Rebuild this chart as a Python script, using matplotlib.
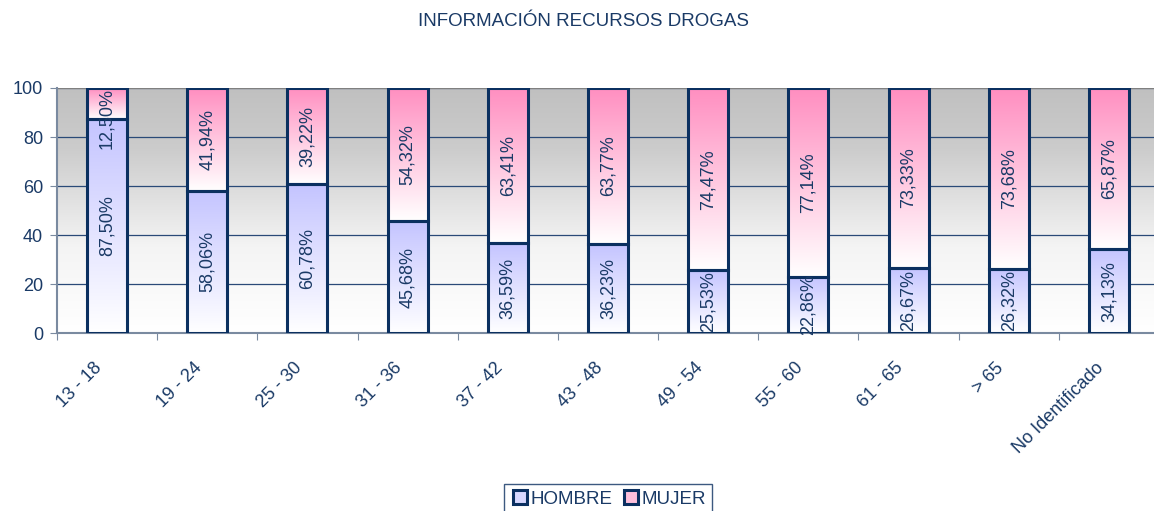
import numpy as np
import matplotlib
matplotlib.use("Agg")
import matplotlib.pyplot as plt
from matplotlib.colors import LinearSegmentedColormap
from matplotlib.lines import Line2D
from matplotlib.transforms import ScaledTranslation

categories = ["13 - 18", "19 - 24", "25 - 30", "31 - 36", "37 - 42", "43 - 48",
              "49 - 54", "55 - 60", "61 - 65", "> 65", "No Identificado"]
hombre = [87.50, 58.06, 60.78, 45.68, 36.59, 36.23, 25.53, 22.86, 26.67, 26.32, 34.13]
mujer = [12.50, 41.94, 39.22, 54.32, 63.41, 63.77, 74.47, 77.14, 73.33, 73.68, 65.87]
hombre_lbl = ["87,50%", "58,06%", "60,78%", "45,68%", "36,59%", "36,23%",
              "25,53%", "22,86%", "26,67%", "26,32%", "34,13%"]
mujer_lbl = ["12,50%", "41,94%", "39,22%", "54,32%", "63,41%", "63,77%",
             "74,47%", "77,14%", "73,33%", "73,68%", "65,87%"]
series_names = ["HOMBRE", "MUJER"]
yticks = [0, 20, 40, 60, 80, 100]

plt.rcParams['font.family'] = ['Liberation Sans', 'DejaVu Sans']
navy = "#0b3060"
txt = "#1a3a66"
fs = 13

fig = plt.figure(figsize=(11.54, 5.11), dpi=100)
ax = fig.add_axes([57/1154, 1-333/511, (1159-57)/1154, (333-88)/511])
n = len(categories)
ax.set_xlim(-0.5, n-0.5)
ax.set_ylim(0, 100)

# background gradient
bg = LinearSegmentedColormap.from_list("bg", [(0, "#ffffff"), (0.35, "#f4f4f4"),
                                              (0.75, "#cccccc"), (1, "#c0c0c0")])
grad = np.linspace(0, 1, 256).reshape(-1, 1)
ax.imshow(grad, cmap=bg, aspect='auto', extent=(-0.5, n-0.5, 0, 100),
          origin='lower', zorder=0)

for y in yticks[1:]:
    ax.axhline(y, color="#2a4a78", lw=0.9, zorder=1)
ax.axhline(100, color="#808080", lw=1.5, zorder=1)

cm_h = LinearSegmentedColormap.from_list("h", ["#ffffff", "#c4c4ff"])
cm_m = LinearSegmentedColormap.from_list("m", ["#ffffff", "#ff8ec0"])
w = 0.4
x = np.arange(n)
bars_h = ax.bar(x, hombre, w, facecolor='none', edgecolor=navy, lw=2.2, zorder=4)
bars_m = ax.bar(x, mujer, w, bottom=hombre, facecolor='none', edgecolor=navy, lw=2.2, zorder=4)
for bars, cm in ((bars_h, cm_h), (bars_m, cm_m)):
    for b in bars:
        x0, y0 = b.get_x(), b.get_y()
        im = ax.imshow(grad, cmap=cm, aspect='auto',
                       extent=(x0, x0+b.get_width(), y0, y0+b.get_height()),
                       origin='lower', zorder=3)
        im.set_clip_path(b)

lfs = 13
for i in range(n):
    ax.text(x[i], hombre[i]/2, hombre_lbl[i], rotation=90, ha='center', va='center',
            fontsize=lfs, color=txt, zorder=5)
    if mujer[i] < 20:
        ax.text(x[i], 100, mujer_lbl[i], rotation=90, ha='center', va='top',
                fontsize=lfs, color=txt, zorder=5)
    else:
        ax.text(x[i], hombre[i] + mujer[i]/2, mujer_lbl[i], rotation=90, ha='center',
                va='center', fontsize=lfs, color=txt, zorder=5)

ax.set_yticks(yticks)
ax.set_yticklabels([str(v) for v in yticks], fontsize=fs, color=txt)
ax.set_xticks(np.arange(-0.5, n-0.5, 1.0))
ax.set_xticklabels([])
ax.set_xticks(x, minor=True)
ax.set_xticklabels(categories, minor=True, rotation=45, ha='right', va='top',
                   rotation_mode='anchor', fontsize=fs, color=txt)
ax.tick_params(axis='x', which='minor', length=0, pad=19)
for lab in ax.get_xticklabels(minor=True):
    lab.set_transform(lab.get_transform() + ScaledTranslation(-0.14, 0, fig.dpi_scale_trans))
ax.tick_params(axis='x', which='major', length=5, color="#7a8aa0", direction='out')
ax.tick_params(axis='y', length=5, color="#7a8aa0", pad=5)
for s in ['top', 'right']:
    ax.spines[s].set_visible(False)
for s in ['left', 'bottom']:
    ax.spines[s].set_color("#7a8aa0")
    ax.spines[s].set_linewidth(1.5)

fig.text(584/1154, 1-22/511, "INFORMACIÓN RECURSOS DROGAS", ha='center', va='center',
         fontsize=13.5, color=txt)

handles = [Line2D([], [], marker='s', ls='none', markersize=10, markerfacecolor="#d8d8ff",
                  markeredgecolor=navy, markeredgewidth=2.2),
           Line2D([], [], marker='s', ls='none', markersize=10, markerfacecolor="#ffc0dc",
                  markeredgecolor=navy, markeredgewidth=2.2)]
leg = fig.legend(handles, series_names, loc='lower center', bbox_to_anchor=(608/1154, -0.025),
                 ncol=2, frameon=True, fancybox=False, fontsize=13.5, handletextpad=0.05,
                 columnspacing=0.5, handlelength=1.0, borderpad=0.35)
leg.get_frame().set_edgecolor(navy)
leg.get_frame().set_linewidth(1.0)
for t in leg.get_texts():
    t.set_color(txt)

fig.savefig("out.png", dpi=100)
